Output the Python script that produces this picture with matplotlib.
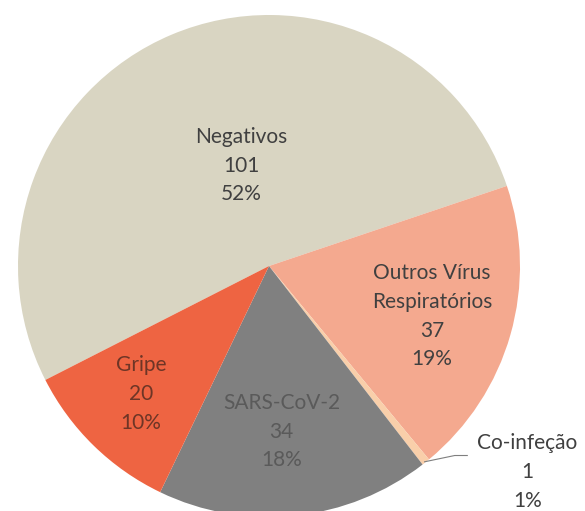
import matplotlib
matplotlib.use("Agg")
import matplotlib.pyplot as plt

categories = ["Negativos", "Outros Vírus\nRespiratórios", "Co-infeção", "SARS-CoV-2", "Gripe"]
counts = [101, 37, 1, 34, 20]
percents = ["52%", "19%", "1%", "18%", "10%"]

colors = ["#D9D5C2", "#F4A98F", "#F9CFAA", "#808080", "#EE6442"]
text_colors = ["#404040", "#404040", "#404040", "#5A5A5A", "#6E3526"]
# label centres in axes data units (pie radius = 1)
label_pos = [(-0.11, 0.40), (0.65, -0.20), (1.03, -0.82), (0.05, -0.66), (-0.51, -0.51)]

W, H = 585, 511
fig = plt.figure(figsize=(W / 100, H / 100), dpi=100)
cx, cy, r = 269, 266, 251
ax = fig.add_axes([(cx - r) / W, (H - cy - r) / H, 2 * r / W, 2 * r / H])

ax.pie(counts, colors=colors, startangle=207, counterclock=False,
       wedgeprops=dict(linewidth=0))
ax.set_xlim(-1, 1)
ax.set_ylim(-1, 1)
ax.set_aspect("equal")
ax.axis("off")

for name, n, p, pos, tc in zip(categories, counts, percents, label_pos, text_colors):
    ax.text(pos[0], pos[1], f"{name}\n{n}\n{p}", ha="center", va="center",
            fontsize=15, color=tc, family="Lato", linespacing=1.55,
            clip_on=False)

# leader line for the tiny co-infection slice
ax.plot([0.62, 0.74, 0.79], [-0.78, -0.755, -0.755], color="#7F7F7F", lw=0.8,
        clip_on=False)

fig.savefig("out.png", dpi=100)
